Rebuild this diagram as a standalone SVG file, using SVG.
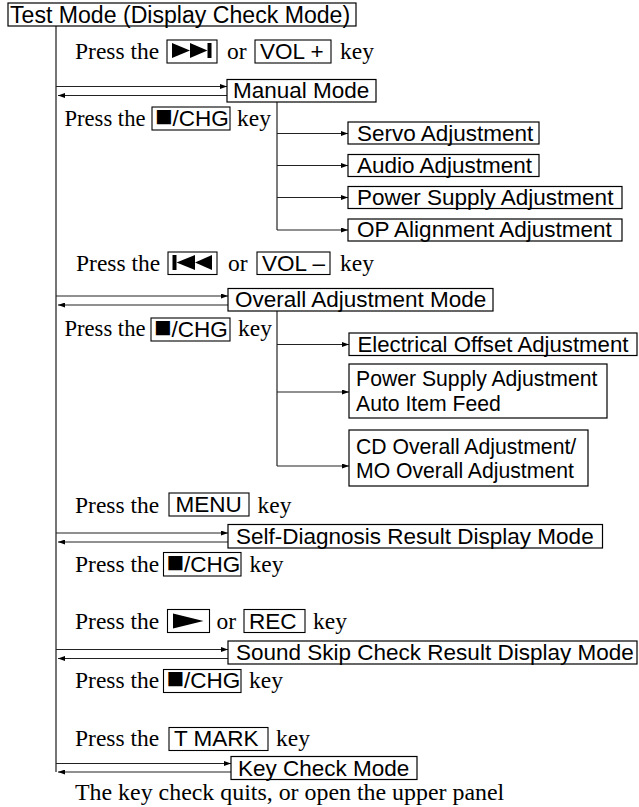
<svg xmlns="http://www.w3.org/2000/svg" width="639" height="807" viewBox="0 0 639 807">
<style>
.box{fill:#fff;stroke:#000;stroke-width:1.2}
.key{fill:#fff;stroke:#000;stroke-width:1.1}
.sans{font-family:"Liberation Sans",Arial,sans-serif;font-size:22.5px;fill:#000}
.sm{font-size:21.2px}
.sq{font-size:29px}
.serif{font-family:"Liberation Serif","Times New Roman",serif;font-size:23.5px;fill:#000}
.ns{font-size:22.6px}
.ln{stroke:#222;stroke-width:1.2;fill:none}
.main{stroke:#666;stroke-width:1.8;fill:none}
.ico{fill:#000;stroke:none}
</style>
<defs>
<marker id="ah" markerUnits="userSpaceOnUse" markerWidth="7" markerHeight="5" refX="7" refY="2.5" orient="auto">
<path d="M0,0 L7,2.5 L0,5 z" fill="#000"/>
</marker>
</defs>
<rect width="639" height="807" fill="#fff"/>

<g id="connectors">
<path class="main" d="M56,26 V772"/>
<path class="ln" d="M56,86.5 H227" marker-end="url(#ah)"/>
<path class="ln" d="M227,95.5 H58" marker-end="url(#ah)"/>
<path class="ln" d="M277,102 V230"/>
<path class="ln" d="M277,133.5 H348" marker-end="url(#ah)"/>
<path class="ln" d="M277,165.5 H348" marker-end="url(#ah)"/>
<path class="ln" d="M277,197.5 H348" marker-end="url(#ah)"/>
<path class="ln" d="M277,230 H348" marker-end="url(#ah)"/>
<path class="ln" d="M56,296 H228" marker-end="url(#ah)"/>
<path class="ln" d="M228,305 H58" marker-end="url(#ah)"/>
<path class="ln" d="M277,311 V466"/>
<path class="ln" d="M277,344.5 H349" marker-end="url(#ah)"/>
<path class="ln" d="M277,392 H349" marker-end="url(#ah)"/>
<path class="ln" d="M277,466 H349" marker-end="url(#ah)"/>
<path class="ln" d="M56,533 H228" marker-end="url(#ah)"/>
<path class="ln" d="M228,542 H58" marker-end="url(#ah)"/>
<path class="ln" d="M56,649.5 H228" marker-end="url(#ah)"/>
<path class="ln" d="M228,658.5 H58" marker-end="url(#ah)"/>
<path class="ln" d="M56,763.5 H231" marker-end="url(#ah)"/>
<path class="ln" d="M231,772 H58" marker-end="url(#ah)"/>
</g>

<g id="test-mode"><rect class="box" x="8" y="3" width="348" height="23"/><text class="sans" x="10" y="22.5" style="font-size:23.1px">Test Mode (Display Check Mode)</text></g>
<g id="manual-mode"><rect class="box" x="227" y="79.5" width="149" height="22.5"/><text class="sans" x="233" y="98">Manual Mode</text></g>
<g id="servo-adjustment"><rect class="box" x="348" y="122" width="191" height="22"/><text class="sans" x="357" y="140.5">Servo Adjustment</text></g>
<g id="audio-adjustment"><rect class="box" x="348" y="154.5" width="191" height="22"/><text class="sans" x="357" y="172.5">Audio Adjustment</text></g>
<g id="power-supply-adjustment"><rect class="box" x="348" y="186.5" width="274" height="22"/><text class="sans" x="357" y="204.5">Power Supply Adjustment</text></g>
<g id="op-alignment-adjustment"><rect class="box" x="348" y="219" width="274" height="22"/><text class="sans" x="357" y="237">OP Alignment Adjustment</text></g>
<g id="overall-adjustment-mode"><rect class="box" x="228" y="288.5" width="265" height="22.5"/><text class="sans" x="235" y="307">Overall Adjustment Mode</text></g>
<g id="electrical-offset-adjustment"><rect class="box" x="349" y="333" width="288" height="22.5"/><text class="sans" x="357.5" y="351.5" style="font-size:22.2px">Electrical Offset Adjustment</text></g>
<g id="power-supply-auto"><rect class="box" x="349" y="364" width="258" height="54"/><text class="sans sm" x="356" y="386">Power Supply Adjustment</text><text class="sans sm" x="356" y="411">Auto Item Feed</text></g>
<g id="cd-mo-overall"><rect class="box" x="349" y="430" width="239" height="56"/><text class="sans sm" x="356" y="454">CD Overall Adjustment/</text><text class="sans sm" x="356" y="478">MO Overall Adjustment</text></g>
<g id="self-diagnosis"><rect class="box" x="228" y="524.5" width="374.5" height="23.5"/><text class="sans" x="236" y="543.5">Self-Diagnosis Result Display Mode</text></g>
<g id="sound-skip"><rect class="box" x="228" y="641" width="409" height="23"/><text class="sans" x="236" y="660">Sound Skip Check Result Display Mode</text></g>
<g id="key-check-mode"><rect class="box" x="231" y="756.5" width="186" height="23"/><text class="sans" x="238" y="775.5">Key Check Mode</text></g>

<g id="label-next">
<text class="serif" x="75" y="58.5">Press the</text>
<rect class="key" x="167" y="40" width="50" height="23"/>
<polygon class="ico" points="172,43 190,50.5 172,58"/>
<polygon class="ico" points="190,43 207.5,50.5 190,58"/>
<rect class="ico" x="207.5" y="43" width="4" height="15"/>
<text class="serif" x="227" y="58.5">or</text>
<rect class="key" x="255" y="40" width="76" height="23"/>
<text class="sans" x="260" y="59">VOL +</text>
<text class="serif" x="340" y="58.5">key</text>
</g>
<g id="label-chg-1">
<text class="serif ns" x="64.5" y="126">Press the</text>
<rect class="key" x="152" y="107" width="78" height="23"/>
<text class="sans" x="155" y="126"><tspan class="sq">■</tspan>/CHG</text>
<text class="serif" x="237" y="126">key</text>
</g>
<g id="label-prev">
<text class="serif" x="76" y="270.5">Press the</text>
<rect class="key" x="168" y="252" width="49" height="22.5"/>
<rect class="ico" x="172.5" y="255" width="4" height="15"/>
<polygon class="ico" points="176.5,262.5 195,255 195,270"/>
<polygon class="ico" points="195,262.5 212,255 212,270"/>
<text class="serif" x="228" y="270.5">or</text>
<rect class="key" x="257" y="252" width="73" height="22.5"/>
<text class="sans" x="262" y="271">VOL –</text>
<text class="serif" x="340" y="270.5">key</text>
</g>
<g id="label-chg-2">
<text class="serif ns" x="64.5" y="336">Press the</text>
<rect class="key" x="151" y="318" width="79" height="23"/>
<text class="sans" x="154" y="337"><tspan class="sq">■</tspan>/CHG</text>
<text class="serif" x="238" y="336">key</text>
</g>
<g id="label-menu">
<text class="serif" x="75" y="513">Press the</text>
<rect class="key" x="169" y="493" width="80" height="23"/>
<text class="sans" x="175.5" y="512">MENU</text>
<text class="serif" x="257.5" y="513">key</text>
</g>
<g id="label-chg-3">
<text class="serif" x="75" y="571.5">Press the</text>
<rect class="key" x="163.5" y="552.5" width="77.5" height="23.5"/>
<text class="sans" x="166.5" y="571.5"><tspan class="sq">■</tspan>/CHG</text>
<text class="serif" x="249.5" y="571.5">key</text>
</g>
<g id="label-play">
<text class="serif" x="75" y="628.5">Press the</text>
<rect class="key" x="167.5" y="609.5" width="42" height="23"/>
<polygon class="ico" points="173,613.5 203.5,621 173,628.5"/>
<text class="serif" x="216.5" y="628.5">or</text>
<rect class="key" x="244" y="609.5" width="61" height="23"/>
<text class="sans" x="249" y="628.5">REC</text>
<text class="serif" x="313" y="628.5">key</text>
</g>
<g id="label-chg-4">
<text class="serif" x="75" y="687.5">Press the</text>
<rect class="key" x="163.5" y="669.5" width="77.5" height="23"/>
<text class="sans" x="166.5" y="688"><tspan class="sq">■</tspan>/CHG</text>
<text class="serif" x="249" y="687.5">key</text>
</g>
<g id="label-tmark">
<text class="serif" x="75" y="746">Press the</text>
<rect class="key" x="169" y="727.5" width="99" height="23"/>
<text class="sans" x="174" y="746">T MARK</text>
<text class="serif" x="276" y="746">key</text>
</g>
<g id="label-quit">
<text class="serif" x="75" y="799.5" style="font-size:23.9px">The key check quits, or open the upper panel</text>
</g>
</svg>
